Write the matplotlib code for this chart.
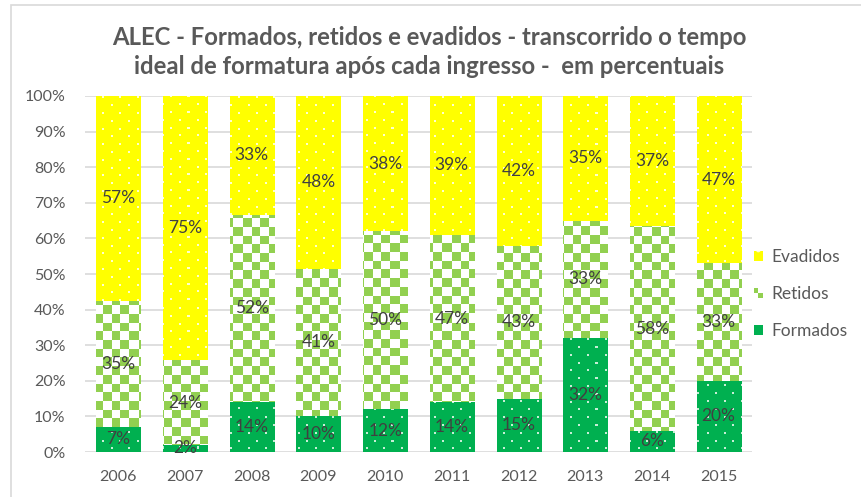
import matplotlib
matplotlib.use("Agg")
import matplotlib.pyplot as plt
import matplotlib.patches as mpatches
from matplotlib.legend_handler import HandlerBase
import numpy as np

anos = ["2006", "2007", "2008", "2009", "2010", "2011", "2012", "2013", "2014", "2015"]
formados = [7, 2, 14, 10, 12, 14, 15, 32, 6, 20]
retidos = [35, 24, 52, 41, 50, 47, 43, 33, 58, 33]
evadidos = [57, 75, 33, 48, 38, 39, 42, 35, 37, 47]
titulo = "ALEC - Formados, retidos e evadidos - transcorrido o tempo\nideal de formatura após cada ingresso -  em percentuais"

plt.rcParams["font.family"] = ["Lato", "DejaVu Sans"]

cinza = "#595959"
amarelo = "#FFFF00"
verde_claro = "#92D050"
verde = "#00B050"

W, H = 667, 356
fig = plt.figure(figsize=(8.61, 4.97), dpi=100)
ax = fig.add_axes([85/861, 45/497, W/861, H/497])

# borda do grafico
fig.patches.append(mpatches.Rectangle((11/861, -0.1), 1.0, 1 - 5/497 + 0.1,
                                      transform=fig.transFigure, fill=False,
                                      edgecolor="#d9d9d9", linewidth=1.2))

x = np.arange(len(anos))
f = np.array(formados, float)
r = np.array(retidos, float)
e = np.array(evadidos, float)
tot = f + r + e
fp = f / tot * 100
rp = r / tot * 100
ep = e / tot * 100

# texturas (pixel a pixel)
def rgb(c):
    return np.array(matplotlib.colors.to_rgb(c))

yy, xx = np.mgrid[0:H, 0:W]
casa = 8.7
xadrez = ((xx / casa).astype(int) + (yy / casa).astype(int)) % 2 == 0
k = np.floor(yy / 7.8)
pontos = ((yy - k * 7.8) < 2) & (np.mod(xx - (k % 2) * 8.5, 17) < 2)

def textura(mask, c1, c2):
    return np.where(mask[..., None], rgb(c1), rgb(c2))

tex_f = textura(pontos, "#c8eed6", verde)
tex_r = textura(xadrez, verde_claro, "white")
tex_e = textura(pontos, "#ffffd0", amarelo)

larg = 0.66
series = [(fp, np.zeros(len(x)), verde, tex_f),
          (rp, fp, verde_claro, tex_r),
          (ep, fp + rp, amarelo, tex_e)]
for alt, base, cor, tex in series:
    barras = ax.bar(x, alt, larg, bottom=base, color=cor, linewidth=0, zorder=2)
    for b in barras:
        im = ax.imshow(tex, extent=(-0.5, 9.5, 0, 100), aspect="auto",
                       interpolation="nearest", origin="upper", zorder=2.5)
        im.set_clip_path(b)

for i in range(len(anos)):
    ax.text(x[i], fp[i] / 2, f"{formados[i]}%", ha="center", va="center", fontsize=12.5, color="#404040", zorder=5)
    ax.text(x[i], fp[i] + rp[i] / 2, f"{retidos[i]}%", ha="center", va="center", fontsize=12.5, color="#404040", zorder=5)
    ax.text(x[i], fp[i] + rp[i] + ep[i] / 2, f"{evadidos[i]}%", ha="center", va="center", fontsize=12.5, color="#404040", zorder=5)

ax.set_xlim(-0.5, 9.5)
ax.set_ylim(0, 100)
ax.set_yticks(range(0, 101, 10))
ax.set_yticklabels([f"{v}%" for v in range(0, 101, 10)])
ax.set_xticks(x)
ax.set_xticklabels(anos)
ax.tick_params(length=0, labelsize=11.5, colors=cinza)
ax.tick_params(axis="x", pad=13)
ax.tick_params(axis="y", pad=14)
ax.grid(axis="y", color="#d9d9d9", linewidth=1.2, zorder=0)
ax.set_axisbelow(True)
for s in ax.spines.values():
    s.set_visible(False)

fig.text(429/861, 1 - 52/497, titulo, ha="center", va="center", fontsize=17.2,
         fontweight="bold", color=cinza, linespacing=1.3)


class HandlerXadrez(HandlerBase):
    def create_artists(self, legend, orig_handle, xdescent, ydescent, width, height, fontsize, trans):
        w2, h2 = width / 2, height / 2
        a = mpatches.Rectangle((-xdescent, -ydescent + h2), w2, h2, facecolor=verde_claro, linewidth=0, transform=trans)
        b = mpatches.Rectangle((-xdescent + w2, -ydescent), w2, h2, facecolor=verde_claro, linewidth=0, transform=trans)
        return [a, b]


handles = [
    mpatches.Patch(facecolor=amarelo, edgecolor="#ffffd0", linewidth=0, hatch=".", label="Evadidos"),
    mpatches.Patch(facecolor=verde_claro, label="Retidos"),
    mpatches.Patch(facecolor=verde, edgecolor="#c8eed6", linewidth=0, hatch=".", label="Formados"),
]
leg = fig.legend(handles=handles, loc="center left", bbox_to_anchor=(754/861, 1 - 294/497),
                 frameon=False, fontsize=12.5, handlelength=0.5, handleheight=0.5,
                 handletextpad=0.5, labelspacing=1.2, borderpad=0, borderaxespad=0,
                 handler_map={handles[1]: HandlerXadrez()})
for t in leg.get_texts():
    t.set_color(cinza)

fig.savefig("out.png", dpi=100)
